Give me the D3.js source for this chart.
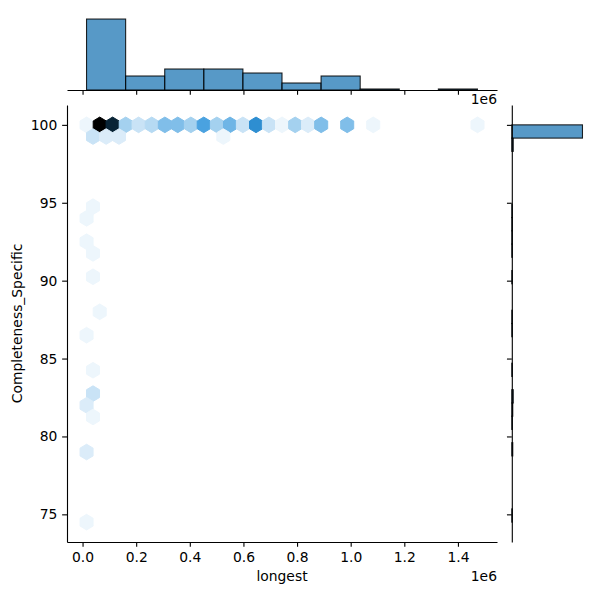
<!DOCTYPE html>
<html><head><meta charset="utf-8">
<script src="https://cdn.jsdelivr.net/npm/d3@7"></script>
<style>body{margin:0;background:#fff} text{font-family:"DejaVu Sans",sans-serif;fill:#000}</style>
</head><body><svg id="c" width="600" height="600"></svg>
<script>
// ---------------- data ----------------
const xTickValues = [0.0, 0.2, 0.4, 0.6, 0.8, 1.0, 1.2, 1.4];   // ×1e6
const yTickValues = [75, 80, 85, 90, 95, 100];
const xLabel = "longest";
const yLabel = "Completeness_Specific";
const xOffsetLabel = "1e6";
const xDataRange = [0.0149, 1.4728];   // ×1e6, data extent of "longest"
const yDataRange = [74.5, 100];        // data extent of Completeness_Specific
const hexGridsize = 30;
// hex cells: centre x (×1e6), centre y, count
const hexX = [0.015, 0.064, 0.112, 0.161, 0.209, 0.258, 0.307, 0.355, 0.404, 0.452, 0.501, 0.550, 0.598, 0.647, 0.695, 0.744, 0.793, 0.841, 0.890, 0.987, 1.084, 1.473,
              0.039, 0.088, 0.136, 0.525,
              0.039, 0.015, 0.015, 0.039, 0.039, 0.064, 0.015, 0.039, 0.039, 0.015, 0.039, 0.015, 0.015];
const hexY = [100, 100, 100, 100, 100, 100, 100, 100, 100, 100, 100, 100, 100, 100, 100, 100, 100, 100, 100, 100, 100, 100,
              99.25, 99.25, 99.25, 99.25,
              94.75, 94.0, 92.5, 91.75, 90.25, 88.0, 86.5, 84.25, 82.75, 82.0, 81.25, 79.0, 74.5];
const hexCount = [1, 24, 21, 5, 3, 4, 7, 7, 5, 10, 5, 8, 3, 12, 3, 1, 5, 2, 7, 7, 1, 1,
                  3, 2, 2, 1,
                  1, 1, 1, 1, 1, 1, 1, 1, 3, 2, 1, 2, 1];
// marginal histograms
const topHistCounts = [71, 14, 21, 21, 17, 7, 14, 1, 0, 1];       // 10 bins over xDataRange
const rightHistCounts = [1, 0, 0, 0, 0, 2, 0, 1, 2, 3, 0, 1, 0, 0, 1, 1, 0, 0, 1, 0,
                         1, 1, 1, 1, 0, 0, 0, 0, 3, 146];          // 30 bins over yDataRange

// ---------------- layout ----------------
const svg = d3.select("#c");
const M = {left: 67, right: 497, top: 105, bottom: 542};
const topMarg = {bottom: 90, top: 15.5};
const rightMarg = {left: 511.8, right: 586};
const PT = 100 / 72;
const fontPx = 10 * PT;

const xPad = (xDataRange[1] - xDataRange[0]) * 0.05;
const yPad = (yDataRange[1] - yDataRange[0]) * 0.05;
const x = d3.scaleLinear().domain([xDataRange[0] - xPad, xDataRange[1] + xPad]).range([M.left, M.right]);
const y = d3.scaleLinear().domain([yDataRange[0] - yPad, yDataRange[1] + yPad]).range([M.bottom, M.top]);

// ---------------- colormap (seaborn hex cmap from C0) ----------------
const base = d3.hsl("#1f77b4");
const maxCount = d3.max(hexCount);
const anchors = d3.range(12).map(k => d3.hsl(base.h, base.s, 1 - k / 11).rgb());
const color = d3.scaleLinear()
  .domain(d3.range(12).map(k => k / 11 * maxCount))
  .range(anchors)
  .interpolate(d3.interpolateRgb);

// ---------------- hexes ----------------
const sx = (xDataRange[1] - xDataRange[0]) / hexGridsize;
const ny = Math.floor(hexGridsize / Math.sqrt(3));
const sy = (yDataRange[1] - yDataRange[0]) / ny;
const hexOff = [[.5, -.5], [.5, .5], [0, 1], [-.5, .5], [-.5, -.5], [0, -1]];
const cells = hexX.map((hx, i) => ({hx, hy: hexY[i], c: hexCount[i]}));
svg.append("g").selectAll("path").data(cells).join("path")
  .attr("d", d => "M" + hexOff.map(([a, b]) => [x(d.hx + a * sx), y(d.hy + b * sy / 3)].join(",")).join("L") + "Z")
  .attr("fill", d => color(d.c))
  .attr("stroke", d => color(d.c))
  .attr("stroke-width", 1);

// ---------------- top marginal histogram ----------------
const topBinW = (xDataRange[1] - xDataRange[0]) / topHistCounts.length;
const yTop = d3.scaleLinear().domain([0, d3.max(topHistCounts) * 1.05]).range([topMarg.bottom, topMarg.top]);
svg.append("g").selectAll("rect").data(topHistCounts).join("rect")
  .attr("x", (d, i) => x(xDataRange[0] + i * topBinW))
  .attr("width", (d, i) => x(xDataRange[0] + (i + 1) * topBinW) - x(xDataRange[0] + i * topBinW))
  .attr("y", d => yTop(d))
  .attr("height", d => yTop(0) - yTop(d))
  .attr("fill", "#1f77b4").attr("fill-opacity", 0.75)
  .attr("stroke", "#000").attr("stroke-opacity", 0.85).attr("stroke-width", 1.1)
  .style("display", d => d > 0 ? null : "none");

// ---------------- right marginal histogram ----------------
const rBinW = (yDataRange[1] - yDataRange[0]) / rightHistCounts.length;
const xRight = d3.scaleLinear().domain([0, d3.max(rightHistCounts) * 1.05]).range([rightMarg.left, rightMarg.right]);
svg.append("g").selectAll("rect").data(rightHistCounts).join("rect")
  .attr("y", (d, i) => y(yDataRange[0] + (i + 1) * rBinW))
  .attr("height", (d, i) => y(yDataRange[0] + i * rBinW) - y(yDataRange[0] + (i + 1) * rBinW))
  .attr("x", xRight(0))
  .attr("width", d => xRight(d) - xRight(0))
  .attr("fill", "#1f77b4").attr("fill-opacity", 0.75)
  .attr("stroke", "#000").attr("stroke-opacity", 0.85).attr("stroke-width", 1.1)
  .style("display", d => d > 0 ? null : "none");

// ---------------- axes ----------------
const tickLen = 3.5 * PT, tickPad = 3.5 * PT;
function styleAxis(g) {
  g.selectAll("path.domain").attr("stroke", "#000").attr("stroke-width", 0.8 * PT);
  g.selectAll(".tick line").attr("stroke", "#000").attr("stroke-width", 0.8 * PT);
  g.selectAll("text").attr("font-family", "DejaVu Sans").attr("font-size", fontPx).attr("fill", "#000");
}
const fmt = d3.format(".1f");
// main x axis
svg.append("g").attr("transform", `translate(0,${M.bottom})`)
  .call(d3.axisBottom(x).tickValues(xTickValues).tickFormat(fmt).tickSize(tickLen).tickPadding(tickPad).tickSizeOuter(0))
  .call(styleAxis);
// main y axis
svg.append("g").attr("transform", `translate(${M.left},0)`)
  .call(d3.axisLeft(y).tickValues(yTickValues).tickFormat(d3.format("d")).tickSize(tickLen).tickPadding(tickPad).tickSizeOuter(0))
  .call(styleAxis);
// top marginal bottom spine (no labels)
svg.append("g").attr("transform", `translate(0,${topMarg.bottom})`)
  .call(d3.axisBottom(x).tickValues(xTickValues).tickFormat("").tickSize(tickLen).tickSizeOuter(0))
  .call(styleAxis);
// right marginal left spine (no labels)
svg.append("g").attr("transform", `translate(${rightMarg.left},0)`)
  .call(d3.axisLeft(y).tickValues(yTickValues).tickFormat("").tickSize(tickLen).tickSizeOuter(0))
  .call(styleAxis);

// labels
svg.append("text").attr("x", (M.left + M.right) / 2).attr("y", 581)
  .attr("text-anchor", "middle").attr("font-size", fontPx).text(xLabel);
svg.append("text").attr("x", M.right).attr("y", 581)
  .attr("text-anchor", "end").attr("font-size", fontPx).text(xOffsetLabel);
svg.append("text").attr("x", M.right).attr("y", 104)
  .attr("text-anchor", "end").attr("font-size", fontPx).text(xOffsetLabel);
svg.append("text").attr("transform", `translate(22,${(M.top + M.bottom) / 2}) rotate(-90)`)
  .attr("text-anchor", "middle").attr("font-size", fontPx).text(yLabel);
</script></body></html>
